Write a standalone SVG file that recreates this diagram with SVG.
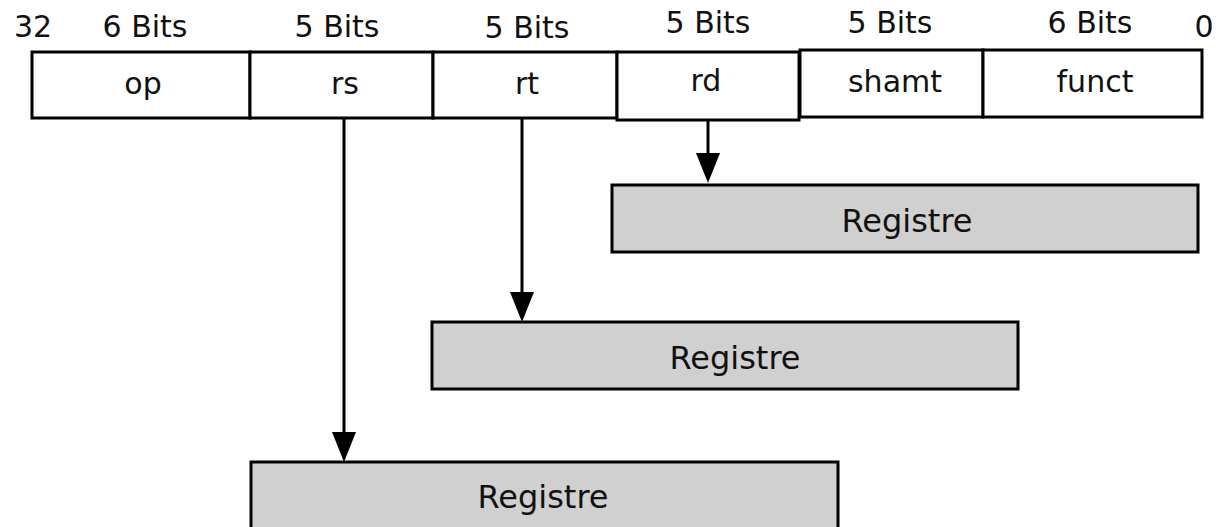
<svg xmlns="http://www.w3.org/2000/svg" width="1216" height="527" viewBox="0 0 1216 527">
  <style>
    .field { fill: #ffffff; stroke: #000000; stroke-width: 3; }
    .reg { fill: #d0d0d0; stroke: #000000; stroke-width: 3; }
    .lbl { font-family: "DejaVu Sans", "Liberation Sans", sans-serif; fill: #111111; text-anchor: middle; }
    .bits { font-size: 30px; }
    .name { font-size: 30px; }
    .regname { font-size: 32px; }
    .wire { stroke: #000000; stroke-width: 3; fill: none; }
    .head { fill: #000000; }
  </style>
  <rect width="1216" height="527" fill="#ffffff"/>

  <!-- bit widths -->
  <g id="bit-widths">
    <text class="lbl bits" x="33" y="37">32</text>
    <text class="lbl bits" x="145" y="37">6 Bits</text>
    <text class="lbl bits" x="337" y="37">5 Bits</text>
    <text class="lbl bits" x="527" y="38">5 Bits</text>
    <text class="lbl bits" x="708" y="33">5 Bits</text>
    <text class="lbl bits" x="890" y="33">5 Bits</text>
    <text class="lbl bits" x="1090" y="33">6 Bits</text>
    <text class="lbl bits" x="1204" y="37">0</text>
  </g>

  <!-- instruction fields -->
  <g id="op"><rect class="field" x="32" y="52" width="218" height="66"/><text class="lbl name" x="143" y="94">op</text></g>
  <g id="rs"><rect class="field" x="250" y="52" width="183" height="66"/><text class="lbl name" x="345" y="94">rs</text></g>
  <g id="rt"><rect class="field" x="433" y="52" width="184" height="66"/><text class="lbl name" x="527" y="94">rt</text></g>
  <g id="rd"><rect class="field" x="617" y="52" width="182" height="68"/><text class="lbl name" x="706" y="91">rd</text></g>
  <g id="shamt"><rect class="field" x="800" y="50" width="183" height="67"/><text class="lbl name" x="895" y="92">shamt</text></g>
  <g id="funct"><rect class="field" x="983" y="50" width="219" height="67"/><text class="lbl name" x="1095" y="92">funct</text></g>

  <!-- registers -->
  <g id="reg-rd"><rect class="reg" x="612" y="185" width="586" height="67"/><text class="lbl regname" x="907" y="232">Registre</text></g>
  <g id="reg-rt"><rect class="reg" x="432" y="322" width="586" height="67"/><text class="lbl regname" x="735" y="369">Registre</text></g>
  <g id="reg-rs"><rect class="reg" x="251" y="462" width="587" height="70"/><text class="lbl regname" x="543" y="508">Registre</text></g>

  <!-- connectors: field to register -->
  <g id="connectors">
    <line class="wire" x1="708" y1="120" x2="708" y2="160"/>
    <path class="head" d="M696,153 L720,153 L708,183 Z"/>
    <line class="wire" x1="522" y1="118" x2="522" y2="298"/>
    <path class="head" d="M510,292 L534,292 L522,322 Z"/>
    <line class="wire" x1="344" y1="118" x2="344" y2="438"/>
    <path class="head" d="M332,432 L356,432 L344,462 Z"/>
  </g>
</svg>
